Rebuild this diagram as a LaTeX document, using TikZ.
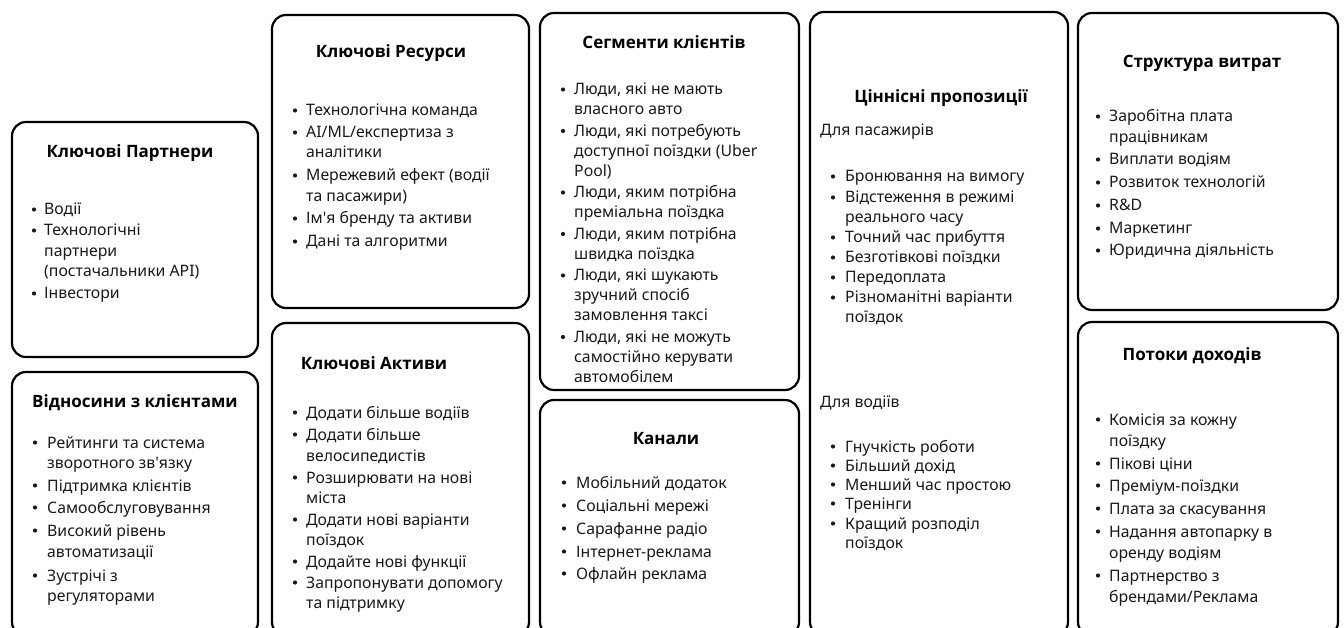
\documentclass[tikz,border=0pt]{standalone}
\usepackage{fontspec}
\setmainfont{Noto Sans}
\newfontfamily\ttlfont{Open Sans}
\newcommand\apos{\XeTeXglyph\XeTeXcharglyph"0027\relax}
\begin{document}
\begin{tikzpicture}[x=1pt,y=-1pt,
  card/.style={draw=black, line width=2.2pt, rounded corners=14pt, inner sep=0pt},
  ttl/.style={anchor=base, inner sep=0pt, font=\ttlfont\fontsize{17}{20}\selectfont\bfseries},
  txt/.style={anchor=base west, inner sep=0pt, font=\fontsize{15.8}{19}\selectfont, text=black!90},
  bul/.style={circle, fill=black!90, inner sep=0pt, minimum size=4.2pt}]
\newcommand\Tx[4]{\node[txt] (#1) at (#2,#3) {#4};}
\newcommand\Bu[3]{\node[bul] (#1) at (#2,#3-5.5) {};}
\clip (0,0) rectangle (1344,628);
\useasboundingbox (0,0) rectangle (1344,628);
% boxes
\node[card, minimum width=246pt, minimum height=235pt] (A) at (135,239.5) {};
\node[card, minimum width=246pt, minimum height=264pt] (B) at (135,504) {};
\node[card, minimum width=257pt, minimum height=293pt] (C) at (400.5,161.5) {};
\node[card, minimum width=257pt, minimum height=313pt] (D) at (400.5,479.5) {};
\node[card, minimum width=259pt, minimum height=377pt] (E) at (669.5,201.5) {};
\node[card, minimum width=259pt, minimum height=236pt] (F) at (669.5,518) {};
\node[card, minimum width=258pt, minimum height=624pt] (G) at (939,324) {};
\node[card, minimum width=260pt, minimum height=297pt] (H) at (1208,161.5) {};
\node[card, minimum width=260pt, minimum height=314pt] (I) at (1208,479) {};
% titles
\node[ttl] (tA) at (130,158) {Ключові Партнери};
\node[ttl] (tB) at (135,407) {Відносини з клієнтами};
\node[ttl] (tC) at (391,58) {Ключові Ресурси};
\node[ttl] (tD) at (374,369) {Ключові Активи};
\node[ttl] (tE) at (664,49) {Сегменти клієнтів};
\node[ttl] (tF) at (666,444) {Канали};
\node[ttl] (tG) at (941,103) {Ціннісні пропозиції};
\node[ttl] (tH) at (1202,68) {Структура витрат};
\node[ttl] (tI) at (1192,360) {Потоки доходів};
% A
\Bu{a1}{34}{215}\Tx{ta1}{44}{215}{Водії}
\Bu{a2}{34}{236}\Tx{ta2}{44}{236}{Технологічні}
\Tx{ta3}{44}{257}{партнери}
\Tx{ta4}{44}{277}{(постачальники API)}
\Bu{a5}{34}{299}\Tx{ta5}{44}{299}{Інвестори}
% B
\Bu{b1}{35}{448}\Tx{tb1}{47}{448}{Рейтинги та система}
\Tx{tb2}{47}{468}{зворотного зв\apos язку}
\Bu{b3}{35}{491}\Tx{tb3}{47}{491}{Підтримка клієнтів}
\Bu{b4}{35}{513}\Tx{tb4}{47}{513}{Самообслуговування}
\Bu{b5}{35}{536}\Tx{tb5}{47}{536}{Високий рівень}
\Tx{tb6}{47}{557}{автоматизації}
\Bu{b7}{35}{581}\Tx{tb7}{47}{581}{Зустрічі з}
\Tx{tb8}{47}{601}{регуляторами}
% C
\Bu{c1}{295}{116}\Tx{tc1}{306}{116}{Технологічна команда}
\Bu{c2}{295}{138}\Tx{tc2}{306}{138}{AI/ML/експертиза з}
\Tx{tc3}{306}{158}{аналітики}
\Bu{c4}{295}{181}\Tx{tc4}{306}{181}{Мережевий ефект (водії}
\Tx{tc5}{306}{202}{та пасажири)}
\Bu{c6}{295}{224}\Tx{tc6}{306}{224}{Ім\apos я бренду та активи}
\Bu{c7}{295}{247}\Tx{tc7}{306}{247}{Дані та алгоритми}
% D
\Bu{d1}{295}{418}\Tx{td1}{306}{418}{Додати більше водіїв}
\Bu{d2}{295}{440}\Tx{td2}{306}{440}{Додати більше}
\Tx{td3}{306}{461}{велосипедистів}
\Bu{d4}{295}{483}\Tx{td4}{306}{483}{Розширювати на нові}
\Tx{td5}{306}{503}{міста}
\Bu{d6}{295}{525}\Tx{td6}{306}{525}{Додати нові варіанти}
\Tx{td7}{306}{545}{поїздок}
\Bu{d8}{295}{567}\Tx{td8}{306}{567}{Додайте нові функції}
\Bu{d9}{295}{588}\Tx{td9}{306}{588}{Запропонувати допомогу}
\Tx{td10}{306}{608}{та підтримку}
% E
\Bu{e1}{563}{95}\Tx{te1}{574}{95}{Люди, які не мають}
\Tx{te2}{574}{115}{власного авто}
\Bu{e3}{563}{136.5}\Tx{te3}{574}{136.5}{Люди, які потребують}
\Tx{te4}{574}{156.5}{доступної поїздки (Uber}
\Tx{te5}{574}{176.5}{Pool)}
\Bu{e6}{563}{198}\Tx{te6}{574}{198}{Люди, яким потрібна}
\Tx{te7}{574}{218}{преміальна поїздка}
\Bu{e8}{563}{239.5}\Tx{te8}{574}{239.5}{Люди, яким потрібна}
\Tx{te9}{574}{259.5}{швидка поїздка}
\Bu{e10}{563}{281}\Tx{te10}{574}{281}{Люди, які шукають}
\Tx{te11}{574}{301}{зручний спосіб}
\Tx{te12}{574}{321}{замовлення таксі}
\Bu{e13}{563}{342.5}\Tx{te13}{574}{342.5}{Люди, які не можуть}
\Tx{te14}{574}{362.5}{самостійно керувати}
\Tx{te15}{574}{382.5}{автомобілем}
% F
\Bu{f1}{564}{488}\Tx{tf1}{576}{488}{Мобільний додаток}
\Bu{f2}{564}{511}\Tx{tf2}{576}{511}{Соціальні мережі}
\Bu{f3}{564}{534}\Tx{tf3}{576}{534}{Сарафанне радіо}
\Bu{f4}{564}{557}\Tx{tf4}{576}{557}{Інтернет-реклама}
\Bu{f5}{564}{579}\Tx{tf5}{576}{579}{Офлайн реклама}
% G
\Tx{tg0}{820}{136}{Для пасажирів}
\Bu{g1}{833}{182}\Tx{tg1}{845}{182}{Бронювання на вимогу}
\Bu{g2}{833}{203}\Tx{tg2}{845}{203}{Відстеження в режимі}
\Tx{tg3}{845}{223}{реального часу}
\Bu{g4}{833}{243}\Tx{tg4}{845}{243}{Точний час прибуття}
\Bu{g5}{833}{263}\Tx{tg5}{845}{263}{Безготівкові поїздки}
\Bu{g6}{833}{283}\Tx{tg6}{845}{283}{Передоплата}
\Bu{g7}{833}{303}\Tx{tg7}{845}{303}{Різноманітні варіанти}
\Tx{tg8}{845}{323}{поїздок}
\Tx{tg9}{820}{407}{Для водіїв}
\Bu{g10}{833}{452}\Tx{tg10}{845}{452}{Гнучкість роботи}
\Bu{g11}{833}{471}\Tx{tg11}{845}{471}{Більший дохід}
\Bu{g12}{833}{490}\Tx{tg12}{845}{490}{Менший час простою}
\Bu{g13}{833}{509}\Tx{tg13}{845}{509}{Тренінги}
\Bu{g14}{833}{529}\Tx{tg14}{845}{529}{Кращий розподіл}
\Tx{tg15}{845}{548}{поїздок}
% H
\Bu{h1}{1098}{122}\Tx{th1}{1109}{122}{Заробітна плата}
\Tx{th2}{1109}{143}{працівникам}
\Bu{h3}{1098}{165}\Tx{th3}{1109}{165}{Виплати водіям}
\Bu{h4}{1098}{188}\Tx{th4}{1109}{188}{Розвиток технологій}
\Bu{h5}{1098}{211}\Tx{th5}{1109}{211}{R\&D}
\Bu{h6}{1098}{234}\Tx{th6}{1109}{234}{Маркетинг}
\Bu{h7}{1098}{256}\Tx{th7}{1109}{256}{Юридична діяльність}
% I
\Bu{i1}{1098}{425}\Tx{ti1}{1109}{425}{Комісія за кожну}
\Tx{ti2}{1109}{446}{поїздку}
\Bu{i3}{1098}{469}\Tx{ti3}{1109}{469}{Пікові ціни}
\Bu{i4}{1098}{491}\Tx{ti4}{1109}{491}{Преміум-поїздки}
\Bu{i5}{1098}{514}\Tx{ti5}{1109}{514}{Плата за скасування}
\Bu{i6}{1098}{537}\Tx{ti6}{1109}{537}{Надання автопарку в}
\Tx{ti7}{1109}{558}{оренду водіям}
\Bu{i8}{1098}{581}\Tx{ti8}{1109}{581}{Партнерство з}
\Tx{ti9}{1109}{602}{брендами/Реклама}
\end{tikzpicture}
\end{document}
